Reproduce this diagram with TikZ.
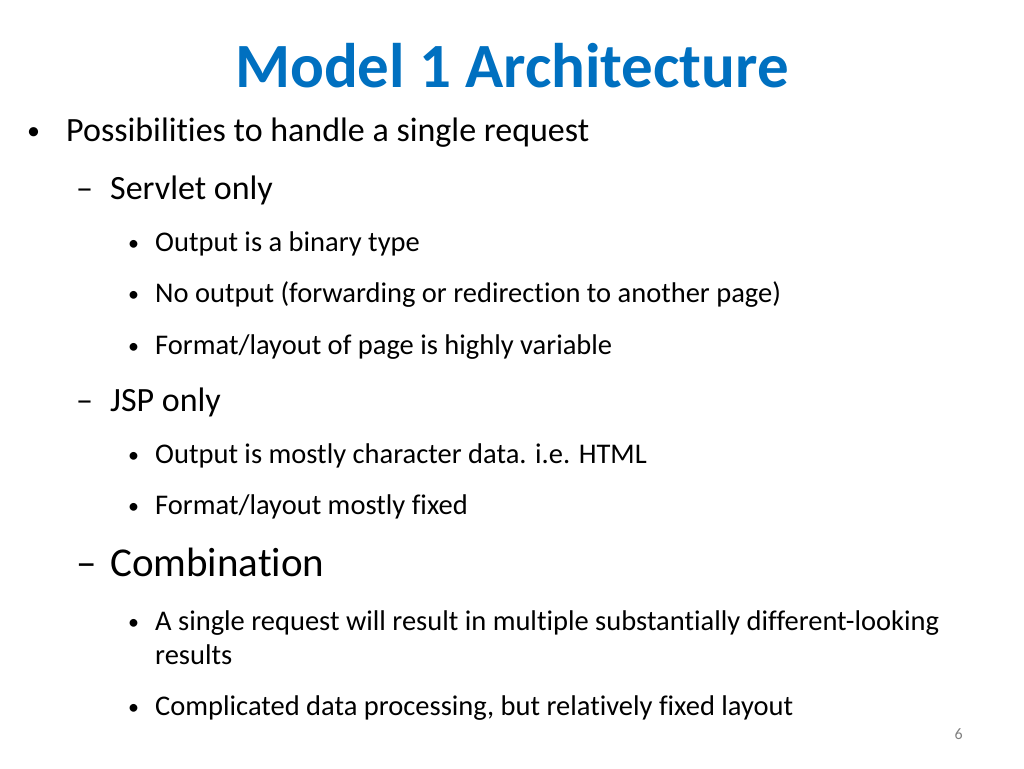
\documentclass[tikz,border=0pt]{standalone}
\usepackage{fontspec}
\setmainfont{Carlito}[RawFeature={-liga;-dlig}]
\definecolor{titleblue}{RGB}{0,112,192}
\begin{document}
\begin{tikzpicture}[x=1pt,y=-1pt,
  lone/.style={anchor=base west,inner sep=0pt,font=\fontsize{34}{40}\selectfont},
  ltwo/.style={anchor=base west,inner sep=0pt,font=\fontsize{34}{40}\selectfont},
  lthree/.style={anchor=base west,inner sep=0pt,font=\fontsize{28.5}{34}\selectfont},
  bul/.style={anchor=base west,inner sep=0pt,font=\fontsize{22}{26}\selectfont}]
\useasboundingbox (0,0) rectangle (1024,768);
\node[anchor=base,inner sep=0pt,font=\fontsize{63}{70}\selectfont\bfseries,text=titleblue] (title) at (512,87) {Model 1 Architecture};
\node[bul,font=\fontsize{26}{30}\selectfont] (b1) at (27,139) {•};
\node[lone] (t1) at (66,141) {Possibilities to handle a single request};
\node[ltwo] (d1) at (76,199) {–};
\node[ltwo] (t2) at (110,199) {Servlet only};
\node[bul] (b3a) at (128,250) {•};
\node[lthree] (t3a) at (155,251) {Output is a binary type};
\node[bul] (b3b) at (128,301) {•};
\node[lthree] (t3b) at (155,302) {No output (forwarding or redirection to another page)};
\node[bul] (b3c) at (128,353) {•};
\node[lthree] (t3c) at (155,354) {Format/layout of page is highly variable};
\node[ltwo] (d2) at (76,411) {–};
\node[ltwo] (t4) at (110,411) {JSP only};
\node[bul] (b3d) at (128,462) {•};
\node[lthree] (t3d) at (155,463) {Output is mostly character data. i.e. HTML};
\node[bul] (b3e) at (128,513) {•};
\node[lthree] (t3e) at (155,514) {Format/layout mostly fixed};
\node[anchor=base west,inner sep=0pt,font=\fontsize{41}{46}\selectfont] (d3) at (76,576) {–};
\node[anchor=base west,inner sep=0pt,font=\fontsize{41}{46}\selectfont] (t5) at (110,576) {Combination};
\node[bul] (b3f) at (128,629) {•};
\node[lthree] (t3f) at (155,630) {A single request will result in multiple substantially different-looking};
\node[lthree] (t3g) at (155,664) {results};
\node[bul] (b3h) at (128,714) {•};
\node[lthree] (t3h) at (155,715) {Complicated data processing, but relatively fixed layout};
\node[anchor=base east,inner sep=0pt,font=\fontsize{16}{18}\selectfont,text=gray] (pg) at (963,739) {6};
\end{tikzpicture}
\end{document}
